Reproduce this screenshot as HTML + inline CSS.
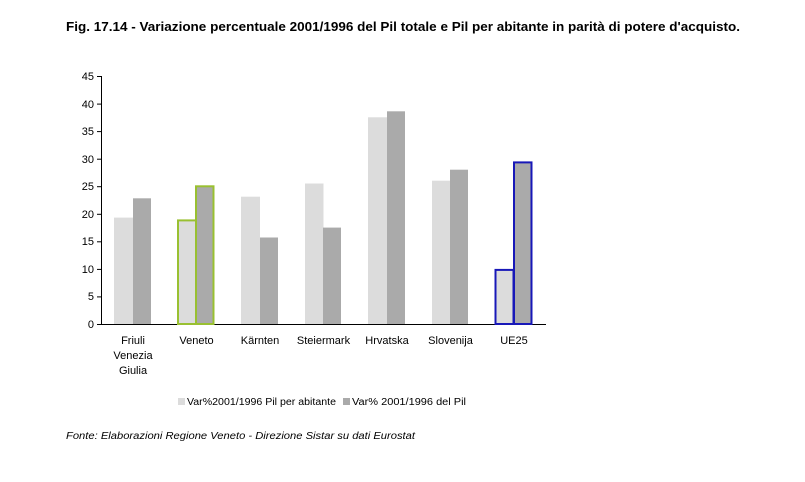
<!DOCTYPE html>
<html><head><meta charset="utf-8"><style>
body{margin:0;background:#fff;width:805px;height:477px;overflow:hidden;font-family:"Liberation Sans",sans-serif}
</style></head><body>
<svg width="805" height="477" xmlns="http://www.w3.org/2000/svg" font-family="Liberation Sans, sans-serif">
<text x="66" y="31" font-size="12.5" font-weight="bold" fill="#000" textLength="674" lengthAdjust="spacingAndGlyphs">Fig. 17.14 - Variazione percentuale 2001/1996 del Pil totale e Pil per abitante in parità di potere d'acquisto.</text>
<g font-size="11" fill="#000" text-anchor="end">
<text x="94" y="328">0</text><text x="94" y="300">5</text><text x="94" y="273">10</text><text x="94" y="245">15</text><text x="94" y="218">20</text><text x="94" y="190">25</text><text x="94" y="163">30</text><text x="94" y="135">35</text><text x="94" y="108">40</text><text x="94" y="80">45</text>
</g>
<g stroke="#000" stroke-width="1">
<line x1="101.5" y1="76" x2="101.5" y2="324"/>
<line x1="101" y1="324.5" x2="546" y2="324.5"/>
<line x1="97" y1="324.5" x2="101" y2="324.5"/><line x1="97" y1="296.9" x2="101" y2="296.9"/><line x1="97" y1="269.4" x2="101" y2="269.4"/><line x1="97" y1="241.8" x2="101" y2="241.8"/><line x1="97" y1="214.3" x2="101" y2="214.3"/><line x1="97" y1="186.7" x2="101" y2="186.7"/><line x1="97" y1="159.2" x2="101" y2="159.2"/><line x1="97" y1="131.6" x2="101" y2="131.6"/><line x1="97" y1="104.1" x2="101" y2="104.1"/><line x1="97" y1="76.5" x2="101" y2="76.5"/>
</g>
<g>
<rect x="114" y="217.6" width="19" height="106.4" fill="#dcdcdc"/><rect x="133" y="198.3" width="18" height="125.7" fill="#aaaaaa"/>
<rect x="178" y="220.4" width="18" height="103.6" fill="#dcdcdc" stroke="#99c031" stroke-width="2"/><rect x="196" y="186.3" width="17.5" height="137.7" fill="#aaaaaa" stroke="#99c031" stroke-width="2"/>
<rect x="241" y="196.7" width="19" height="127.3" fill="#dcdcdc"/><rect x="260" y="237.5" width="18" height="86.5" fill="#aaaaaa"/>
<rect x="305" y="183.5" width="18.5" height="140.5" fill="#dcdcdc"/><rect x="323" y="227.6" width="18" height="96.4" fill="#aaaaaa"/>
<rect x="368" y="117.3" width="19" height="206.7" fill="#dcdcdc"/><rect x="387" y="111.3" width="18" height="212.7" fill="#aaaaaa"/>
<rect x="432" y="180.7" width="19" height="143.3" fill="#dcdcdc"/><rect x="450" y="169.7" width="18" height="154.3" fill="#aaaaaa"/>
<rect x="495.5" y="269.9" width="18" height="54.1" fill="#dcdcdc" stroke="#1818b8" stroke-width="2"/><rect x="514" y="162.4" width="17.5" height="161.6" fill="#aaaaaa" stroke="#1818b8" stroke-width="2"/>
</g>
<g font-size="11" fill="#000" text-anchor="middle">
<text x="133" y="344">Friuli</text><text x="133" y="359">Venezia</text><text x="133" y="374">Giulia</text>
<text x="196.5" y="344">Veneto</text><text x="260" y="344">Kärnten</text><text x="323.5" y="344">Steiermark</text><text x="387" y="344">Hrvatska</text><text x="450.5" y="344">Slovenija</text><text x="514" y="344">UE25</text>
</g>
<rect x="178" y="398" width="7" height="7" fill="#dcdcdc"/>
<text x="187" y="405" font-size="10" fill="#000" textLength="149" lengthAdjust="spacingAndGlyphs">Var%2001/1996 Pil per abitante</text>
<rect x="343" y="398" width="7" height="7" fill="#aaaaaa"/>
<text x="352" y="405" font-size="10" fill="#000" textLength="114" lengthAdjust="spacingAndGlyphs">Var% 2001/1996 del Pil</text>
<text x="66" y="439" font-size="10" font-style="italic" fill="#000" textLength="349" lengthAdjust="spacingAndGlyphs">Fonte: Elaborazioni Regione Veneto - Direzione Sistar su dati Eurostat</text>
</svg>
</body></html>
